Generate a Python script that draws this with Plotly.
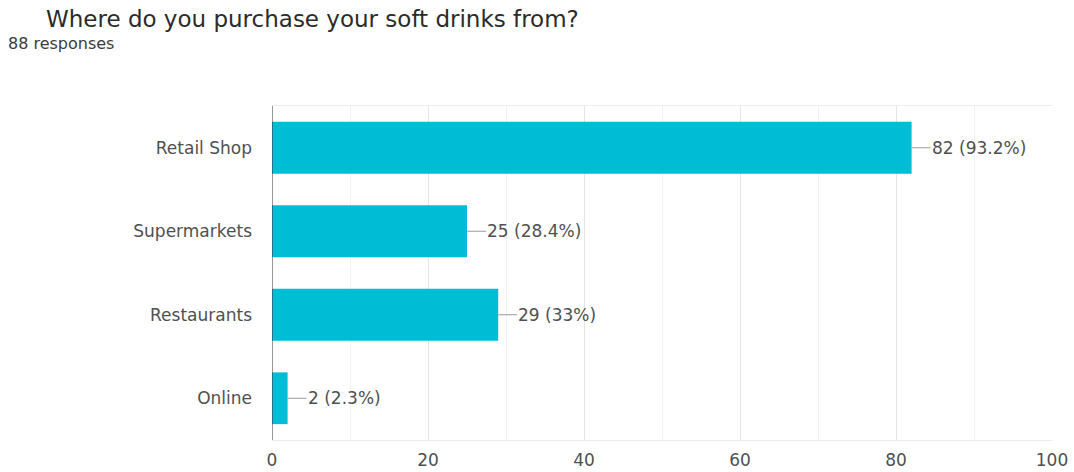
import plotly.graph_objects as go

# Survey responses: where soft drinks are purchased
categories = ["Retail Shop", "Supermarkets", "Restaurants", "Online"]
counts = [82, 25, 29, 2]
total_responses = 88

x_ticks = [0, 20, 40, 60, 80, 100]

BAR_COLOR = "#00bcd4"
TEXT_COLOR = "#505050"
FONT = "DejaVu Sans, Arial, sans-serif"


def pct_label(n, total):
    p = f"{100 * n / total:.1f}".rstrip("0").rstrip(".")
    return f"{n} ({p}%)"


fig = go.Figure(
    go.Bar(
        x=counts,
        y=categories,
        orientation="h",
        marker=dict(color=BAR_COLOR, line=dict(width=0)),
        width=0.62,
        hoverinfo="skip",
    )
)

# value labels joined to the bar ends by a short leader line
for cat, n in zip(categories, counts):
    fig.add_annotation(
        x=n,
        y=cat,
        xref="x",
        yref="y",
        text=pct_label(n, total_responses),
        showarrow=True,
        arrowhead=0,
        arrowwidth=1,
        arrowcolor="#9a9a9a",
        ax=19,
        ay=0,
        xanchor="left",
        standoff=0,
        borderpad=0,
        font=dict(family=FONT, size=17, color=TEXT_COLOR),
    )

fig.add_annotation(
    text="Where do you purchase your soft drinks from?",
    xref="paper", yref="paper",
    x=0, y=1,
    xanchor="left", yanchor="middle",
    xshift=-228, yshift=87,
    showarrow=False,
    font=dict(family=FONT, size=23, color="#2b2b2b"),
)
fig.add_annotation(
    text="88 responses",
    xref="paper", yref="paper",
    x=0, y=1,
    xanchor="left", yanchor="middle",
    xshift=-266, yshift=63,
    showarrow=False,
    font=dict(family=FONT, size=16, color="#3c3c3c"),
)

fig.update_layout(
    width=1074,
    height=472,
    margin=dict(l=272, r=22, t=106, b=32, autoexpand=False),
    paper_bgcolor="white",
    plot_bgcolor="white",
    showlegend=False,
    xaxis=dict(
        range=[0, 100],
        tickvals=x_ticks,
        ticktext=[str(v) for v in x_ticks],
        showgrid=True,
        gridcolor="#e4e4e4",
        gridwidth=1,
        minor=dict(dtick=10, showgrid=True, gridcolor="#f3f3f3", gridwidth=1),
        zeroline=False,
        showline=True,
        linecolor="#ececec",
        mirror=True,
        ticks="",
        ticklabelstandoff=5,
        tickfont=dict(family=FONT, size=17, color=TEXT_COLOR),
        automargin=False,
        fixedrange=True,
    ),
    yaxis=dict(
        categoryorder="array",
        categoryarray=categories[::-1],
        showgrid=False,
        zeroline=False,
        showline=False,
        ticks="",
        ticklabelstandoff=19,
        tickfont=dict(family=FONT, size=17, color=TEXT_COLOR),
        automargin=False,
        fixedrange=True,
    ),
)

# dark baseline at x = 0
fig.add_shape(
    type="line", xref="x", yref="paper",
    x0=0, x1=0, y0=0, y1=1,
    line=dict(color="#333333", width=1),
    layer="above",
)

fig.write_html("out.html")
